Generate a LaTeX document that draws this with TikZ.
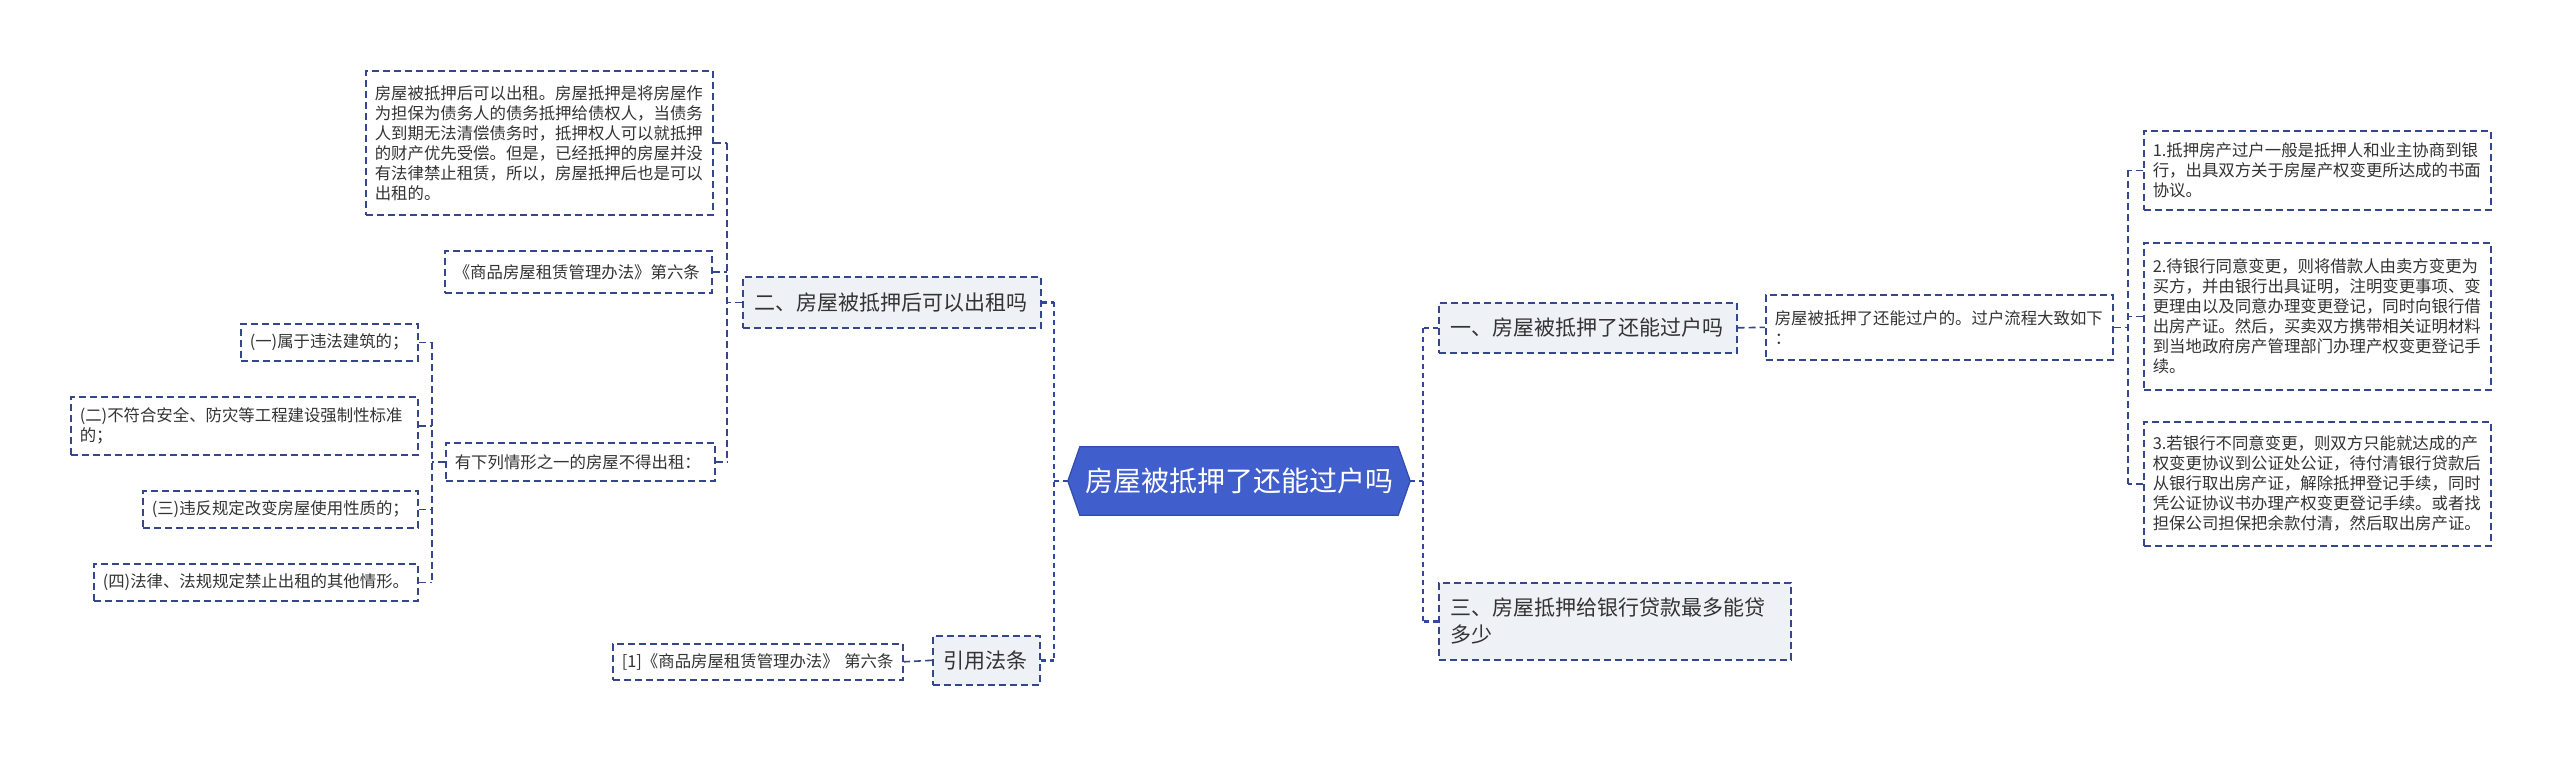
\documentclass[tikz,border=0pt]{standalone}
\usepackage{fontspec}
\setmainfont{Noto Sans CJK SC}
\usetikzlibrary{backgrounds}
\definecolor{navy}{RGB}{52,70,140}
\definecolor{trunkblue}{RGB}{50,72,160}
\definecolor{gfill}{RGB}{238,241,245}
\definecolor{rootblue}{RGB}{64,94,204}
\definecolor{rootedge}{RGB}{48,76,176}
\definecolor{txt}{RGB}{51,51,51}
\tikzset{
  dsh/.style={draw=navy, line width=1.6pt, dash pattern=on 7pt off 4pt},
  conn/.style={dsh},
  trunk/.style={draw=trunkblue, line width=2.4pt, dash pattern=on 5pt off 4pt},
  leaf/.style={dsh, anchor=north west, align=left, inner xsep=9pt, inner ysep=0pt, text=txt, font=\fontsize{16.4}{20}\selectfont},
  lone/.style={dsh, fill=gfill, anchor=north west, align=left, inner xsep=12pt, inner ysep=0pt, text=txt, font=\fontsize{21}{27}\selectfont},
  rootnode/.style={inner sep=0pt, text=white, font=\fontsize{28}{32}\selectfont, minimum width=342pt, minimum height=68pt},
}
\begin{document}
\begin{tikzpicture}[x=1pt,y=-1pt]
\useasboundingbox (0,0) rectangle (2560,756);

% root
\node[rootnode] (root) at (1239,481) {房屋被抵押了还能过户吗};

% level one
\node[lone, minimum width=298pt, minimum height=51pt, text width=274pt] (n2) at (742,276) {二、房屋被抵押后可以出租吗};
\node[lone, minimum width=107pt, minimum height=49pt, text width=85pt, inner xsep=11pt] (ref) at (932,635) {引用法条};
\node[lone, minimum width=298pt, minimum height=50pt, text width=274pt] (n1) at (1438,302) {一、房屋被抵押了还能过户吗};
\node[lone, minimum width=352pt, minimum height=77pt, text width=328pt] (n3) at (1438,582) {三、房屋抵押给银行贷款最多能贷\\多少};

% left leaves
\node[leaf, minimum width=347pt, minimum height=144pt, text width=329pt] (A) at (365,70) {房屋被抵押后可以出租。房屋抵押是将房屋作\\为担保为债务人的债务抵押给债权人，当债务\\人到期无法清偿债务时，抵押权人可以就抵押\\的财产优先受偿。但是，已经抵押的房屋并没\\有法律禁止租赁，所以，房屋抵押后也是可以\\出租的。};
\node[leaf, minimum width=267pt, minimum height=42pt, text width=249pt] (B) at (444,250) {《商品房屋租赁管理办法》第六条};
\node[leaf, minimum width=269pt, minimum height=38pt, text width=251pt] (C) at (445,442) {有下列情形之一的房屋不得出租：};
\node[leaf, minimum width=177pt, minimum height=37pt, text width=159pt] (c1) at (240,323) {(一)属于违法建筑的；};
\node[leaf, minimum width=347pt, minimum height=58pt, text width=329pt] (c2) at (70,396) {(二)不符合安全、防灾等工程建设强制性标准\\的；};
\node[leaf, minimum width=275pt, minimum height=37pt, text width=257pt] (c3) at (142,490) {(三)违反规定改变房屋使用性质的；};
\node[leaf, minimum width=324pt, minimum height=37pt, text width=306pt] (c4) at (93,563) {(四)法律、法规规定禁止出租的其他情形。};
\node[leaf, minimum width=290pt, minimum height=36pt, text width=272pt] (r1) at (612,643) {[1]《商品房屋租赁管理办法》 第六条};

% right leaves
\node[leaf, minimum width=347pt, minimum height=65pt, text width=329pt] (p) at (1765,294) {房屋被抵押了还能过户的。过户流程大致如下\\：};
\node[leaf, minimum width=347pt, minimum height=79pt, text width=329pt] (b1) at (2143,130) {1.抵押房产过户一般是抵押人和业主协商到银\\行，出具双方关于房屋产权变更所达成的书面\\协议。};
\node[leaf, minimum width=347pt, minimum height=147pt, text width=329pt] (b2) at (2143,242) {2.待银行同意变更，则将借款人由卖方变更为\\买方，并由银行出具证明，注明变更事项、变\\更理由以及同意办理变更登记，同时向银行借\\出房产证。然后，买卖双方携带相关证明材料\\到当地政府房产管理部门办理产权变更登记手\\续。};
\node[leaf, minimum width=347pt, minimum height=124pt, text width=329pt] (b3) at (2143,421) {3.若银行不同意变更，则双方只能就达成的产\\权变更协议到公证处公证，待付清银行贷款后\\从银行取出房产证，解除抵押登记手续，同时\\凭公证协议书办理产权变更登记手续。或者找\\担保公司担保把余款付清，然后取出房产证。};

% background: page and root hexagon
\begin{scope}[on background layer]
  \fill[white] (0,0) rectangle (2560,756);
  \filldraw[fill=rootblue, draw=rootedge, line width=1.2pt]
    (root.west) -- ([xshift=12pt]root.north west) -- ([xshift=-12pt]root.north east)
    -- (root.east) -- ([xshift=-12pt]root.south east) -- ([xshift=12pt]root.south west) -- cycle;
\end{scope}

% coordinates of trunks
\coordinate (LT) at (1054,481);
\coordinate (RT) at (1423,481);
\coordinate (S2) at (727,0);
\coordinate (S3) at (432,0);
\coordinate (S4) at (2128,0);

% left main trunk
\draw[trunk] (root.west) -- (LT);
\draw[trunk] (n2.east) -- (n2.east -| LT);
\draw[trunk] (ref.east) -- (ref.east -| LT);
\draw[trunk] (n2.east -| LT) -- (ref.east -| LT);

% sub trunk of n2
\draw[conn] (n2.west) -- (n2.west -| S2);
\draw[conn] (A.east) -- (A.east -| S2);
\draw[conn] (B.east) -- (B.east -| S2);
\draw[conn] (C.east) -- (C.east -| S2);
\draw[conn] (A.east -| S2) -- (C.east -| S2);

% sub trunk of C
\draw[conn] (C.west) -- (C.west -| S3);
\draw[conn] (c1.east) -- (c1.east -| S3);
\draw[conn] (c2.east) -- (c2.east -| S3);
\draw[conn] (c3.east) -- (c3.east -| S3);
\draw[conn] (c4.east) -- (c4.east -| S3);
\draw[conn] (c1.east -| S3) -- (c4.east -| S3);

% reference
\draw[conn] (ref.west) -- (r1.east);

% right main trunk
\draw[trunk] (root.east) -- (RT);
\draw[trunk] (n1.west) -- (n1.west -| RT);
\draw[trunk] (n3.west) -- (n3.west -| RT);
\draw[trunk] (n1.west -| RT) -- (n3.west -| RT);

% n1 -> p
\draw[conn] (n1.east) -- (p.west);

% sub trunk of p
\draw[conn] (p.east) -- (p.east -| S4);
\draw[conn] (b1.west) -- (b1.west -| S4);
\draw[conn] (b2.west) -- (b2.west -| S4);
\draw[conn] (b3.west) -- (b3.west -| S4);
\draw[conn] (b1.west -| S4) -- (b3.west -| S4);
\end{tikzpicture}
\end{document}
